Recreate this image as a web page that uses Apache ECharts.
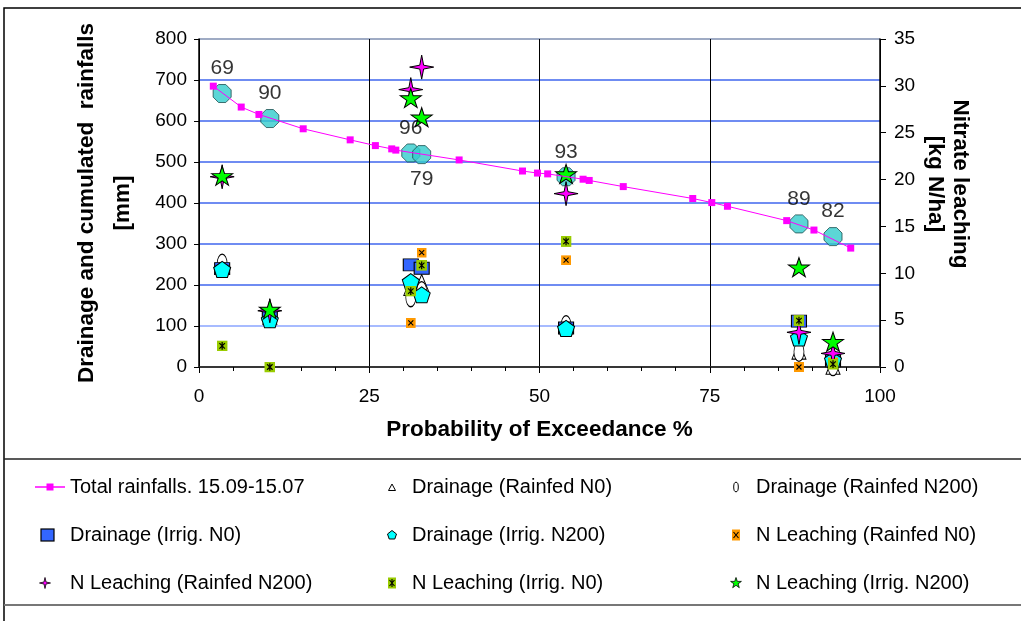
<!DOCTYPE html>
<html><head><meta charset="utf-8">
<script src="https://cdn.jsdelivr.net/npm/echarts@6/dist/echarts.min.js"></script>
<style>html,body{margin:0;padding:0;background:#fff}#c{width:1021px;height:621px}</style>
</head><body><div id="c"></div>
<script>
// ---- data ----
const rainProb  = [2.1, 6.2, 8.8, 15.3, 22.2, 25.9, 28.3, 28.9, 38.2, 47.5, 49.7, 51.2, 56.4, 57.3, 62.3, 72.5, 75.3, 77.6, 86.3, 90.3, 95.7];
const rainTotal = [685, 634, 616, 581, 554, 540, 532, 529, 505, 478, 473, 471, 458, 455, 440, 411, 401, 392, 357, 334, 290];
const yearLabels = ['69', '90', '96', '79', '93', '89', '82'];
const yearProb   = [3.4, 10.4, 31.1, 32.7, 53.9, 88.1, 93.1];
const yearRain   = [667, 606, 522, 518, 464, 349, 318];
const drainRainfedN0   = [248, 125, 195, 205, 103, 40, 3];
const drainRainfedN200 = [252, 120, 170, 185, 102, 37, 2];
const drainIrrigN0     = [240, 128, 249, 241, 95, 112, 15];
const drainIrrigN200   = [238, 115, 208, 176, 94, 71, 17];
const leachRainfedN0   = [2.2, 0, 4.7, 12.2, 11.4, 0, 0.5];
const leachRainfedN200 = [20.3, 6.0, 29.6, 32.0, 18.5, 3.7, 1.45];
const leachIrrigN0     = [2.25, 0, 8.1, 10.85, 13.4, 4.95, 0.3];
const leachIrrigN200   = [20.4, 6.15, 28.7, 26.65, 20.6, 10.65, 2.7];
const leftTicks = { min: 0, max: 800, step: 100 };
const rightTicks = { min: 0, max: 35, step: 5 };
const xTicks = { min: 0, max: 100, step: 25 };

// ---- styles ----
const FONT = 'Arial, "Liberation Sans", sans-serif';
const labelBelow = ['79'];
const svgURL = s => 'image://data:image/svg+xml;charset=utf-8,' + encodeURIComponent(s);
const svg = (w, h, body) => svgURL("<svg xmlns='http://www.w3.org/2000/svg' width='" + w + "' height='" + h + "' viewBox='0 0 " + w + " " + h + "'>" + body + "</svg>");
const orangeX = svg(20, 20, "<rect x='0' y='0' width='20' height='20' fill='#FF9900'/><path d='M5,5 L15,15 M15,5 L5,15' stroke='#000' stroke-width='2.2' fill='none'/>");
const greenAst = svg(20, 20, "<rect x='0' y='0' width='20' height='20' fill='#99CC00'/><path d='M5,5 L15,15 M15,5 L5,15 M10,3 L10,17' stroke='#000' stroke-width='2.2' fill='none'/>");
const OCT = 'path://M30,0 L70,0 L100,30 L100,70 L70,100 L30,100 L0,70 L0,30 Z';
const PENT = 'path://M50,0 L100,38 L81,100 L19,100 L0,38 Z';
const STAR4 = 'path://M50,0 L58,42 L100,50 L58,58 L50,100 L42,58 L0,50 L42,42 Z';
const STAR5 = 'path://M50,0 L61,35 L98,35 L68,57 L79,91 L50,70 L21,91 L32,57 L2,35 L39,35 Z';

// legend icons (30 x 14 boxes)
const LI = {
  rain: svg(30, 14, "<line x1='0' y1='7' x2='30' y2='7' stroke='#FF00FF' stroke-width='1.5'/><rect x='11.5' y='3.5' width='7' height='7' fill='#FF00FF'/>"),
  tri: svg(30, 14, "<polygon points='11.5,10.5 18.5,10.5 15,4' fill='#fff' stroke='#000' stroke-width='1'/>"),
  ell: svg(30, 14, "<ellipse cx='15' cy='7' rx='2.3' ry='4.8' fill='#fff' stroke='#000' stroke-width='1'/>"),
  sq: svg(30, 14, "<rect x='6' y='1' width='13' height='12' fill='#3366FF' stroke='#000' stroke-width='1.2'/>"),
  pent: svg(30, 14, "<polygon points='15,2.5 19.5,6 17.8,11 12.2,11 10.5,6' fill='#00FFFF' stroke='#000' stroke-width='1'/>"),
  orange: svg(30, 14, "<rect x='11' y='1.5' width='8' height='11' fill='#FF9900'/><path d='M12.5,4 L17.5,10 M17.5,4 L12.5,10' stroke='#000' stroke-width='1.1'/>"),
  star4: svg(30, 14, "<polygon points='10,1.5 11,6 15.5,7 11,8 10,12.5 9,8 4.5,7 9,6' fill='#FF00FF' stroke='#000' stroke-width='0.8'/>"),
  yg: svg(30, 14, "<rect x='11' y='1.5' width='8' height='11' fill='#99CC00'/><path d='M12.5,4 L17.5,10 M17.5,4 L12.5,10 M15,3 L15,11' stroke='#000' stroke-width='1.1'/>"),
  star5: svg(30, 14, "<polygon points='15,1.5 16.3,5.4 20.4,5.4 17.1,7.8 18.3,11.7 15,9.3 11.7,11.7 12.9,7.8 9.6,5.4 13.7,5.4' fill='#00FF00' stroke='#000' stroke-width='0.8'/>")
};

const pts = vals => yearProb.map((p, i) => [p, vals[i]]);
function sc(name, vals, yIdx, symbol, size, color, border) {
  return {
    name, type: 'scatter', yAxisIndex: yIdx, data: pts(vals),
    symbol, symbolSize: size,
    itemStyle: { color, borderColor: border || '#000', borderWidth: border === 'none' ? 0 : 1, opacity: 1 },
    emphasis: { disabled: true }
  };
}

const series = [
  {
    name: 'Total rainfalls. 15.09-15.07', type: 'line', yAxisIndex: 0,
    data: rainProb.map((p, i) => [p, rainTotal[i]]),
    symbol: 'rect', symbolSize: 7, showAllSymbol: true,
    lineStyle: { color: '#FF00FF', width: 1 },
    itemStyle: { color: '#FF00FF' }, emphasis: { disabled: true }
  },
  {
    name: 'years', type: 'scatter', yAxisIndex: 0,
    data: yearProb.map((p, i) => ({
      value: [p, yearRain[i]], name: yearLabels[i],
      label: { position: labelBelow.includes(yearLabels[i]) ? 'bottom' : 'top' }
    })),
    symbol: OCT, symbolSize: 18,
    itemStyle: { color: '#33CCCC', borderColor: '#1d4d4d', borderWidth: 1 },
    label: { show: true, formatter: '{b}', distance: 5, fontSize: 21, color: '#000', fontFamily: FONT },
    emphasis: { disabled: true }
  },
  sc('Drainage (Rainfed N0)', drainRainfedN0, 0, 'triangle', [14, 17], '#fff'),
  sc('Drainage (Rainfed N200)', drainRainfedN200, 0, 'circle', [10, 19], '#fff'),
  sc('Drainage (Irrig. N0)', drainIrrigN0, 0, 'rect', [15, 12], '#3366FF'),
  sc('Drainage (Irrig. N200)', drainIrrigN200, 0, PENT, [17, 16], '#00FFFF'),
  sc('N Leaching (Rainfed N0)', leachRainfedN0, 1, orangeX, 10, '#FF9900', 'none'),
  sc('N Leaching (Rainfed N200)', leachRainfedN200, 1, STAR4, 24, '#FF00FF'),
  sc('N Leaching (Irrig. N0)', leachIrrigN0, 1, greenAst, 11, '#99CC00', 'none'),
  sc('N Leaching (Irrig. N200)', leachIrrigN200, 1, STAR5, [21, 19], '#00FF00')
];

const legendBase = {
  orient: 'vertical', top: 471, itemWidth: 30, itemHeight: 14, itemGap: 26,
  textStyle: { fontSize: 20, fontFamily: FONT, color: '#000', lineHeight: 22 },
  selectedMode: false, inactiveColor: '#000'
};
const li = (name, icon) => ({ name, icon: LI[icon] });

const chart = echarts.init(document.getElementById('c'), null, { renderer: 'canvas' });
chart.setOption({
  animation: false,
  backgroundColor: '#fff',
  textStyle: { fontFamily: FONT },
  grid: { left: 199, right: 141, top: 39, bottom: 254, containLabel: false },
  xAxis: {
    type: 'value', min: xTicks.min, max: xTicks.max, interval: xTicks.step,
    name: 'Probability of Exceedance %', nameLocation: 'middle', nameGap: 51,
    nameTextStyle: { fontSize: 22.5, fontWeight: 'bold', color: '#000', fontFamily: FONT },
    axisLine: { lineStyle: { color: '#333', width: 1.5 } },
    axisTick: { show: true, length: 6, lineStyle: { color: '#000' } },
    minorTick: { show: true, splitNumber: 5, length: 4, lineStyle: { color: '#000' } },
    axisLabel: { fontSize: 19, color: '#000', margin: 20, fontFamily: FONT },
    splitLine: { show: true, lineStyle: { color: '#000', width: 1 } }
  },
  yAxis: [
    {
      type: 'value', min: leftTicks.min, max: leftTicks.max, interval: leftTicks.step, position: 'left',
      name: 'Drainage and cumulated  rainfalls\n[mm]', nameLocation: 'middle', nameGap: 58,
      nameTextStyle: { fontSize: 22.5, fontWeight: 'bold', color: '#000', lineHeight: 36, fontFamily: FONT },
      axisLine: { show: true, lineStyle: { color: '#000', width: 1.5 } },
      axisTick: { show: true, length: 5, lineStyle: { color: '#000' } },
      axisLabel: { fontSize: 19, color: '#000', margin: 12, fontFamily: FONT },
      splitLine: { show: true, lineStyle: { color: ['#000', '#8aa4ff', '#3f66ee', '#3f66ee', '#3f66ee', '#3f66ee', '#3f66ee', '#3f66ee', '#7f8fb0'], width: 1.5 } }
    },
    {
      type: 'value', min: rightTicks.min, max: rightTicks.max, interval: rightTicks.step, position: 'right',
      axisLine: { show: true, lineStyle: { color: '#000', width: 1.5 } },
      axisTick: { show: true, length: 6, lineStyle: { color: '#000' } },
      axisLabel: { fontSize: 19, color: '#000', margin: 14, fontFamily: FONT },
      splitLine: { show: false }
    }
  ],
  legend: [
    Object.assign({}, legendBase, { left: 30, data: [li('Total rainfalls. 15.09-15.07', 'rain'), li('Drainage (Irrig. N0)', 'sq'), li('N Leaching (Rainfed N200)', 'star4')] }),
    Object.assign({}, legendBase, { left: 372, data: [li('Drainage (Rainfed N0)', 'tri'), li('Drainage (Irrig. N200)', 'pent'), li('N Leaching (Irrig. N0)', 'yg')] }),
    Object.assign({}, legendBase, { left: 716, data: [li('Drainage (Rainfed N200)', 'ell'), li('N Leaching (Rainfed N0)', 'orange'), li('N Leaching (Irrig. N200)', 'star5')] })
  ],
  graphic: [
    { type: 'rect', silent: true, z: -10, shape: { x: 4, y: 8, width: 1050, height: 700 }, style: { fill: 'none', stroke: '#000', lineWidth: 1.5 } },
    { type: 'line', silent: true, shape: { x1: 4, y1: 459, x2: 1021, y2: 459 }, style: { stroke: '#222', lineWidth: 1.5 } },
    { type: 'line', silent: true, shape: { x1: 4, y1: 605, x2: 1021, y2: 605 }, style: { stroke: '#777', lineWidth: 2 } },
    { type: 'text', silent: true, x: 948, y: 184, rotation: -Math.PI / 2,
      style: { text: 'Nitrate leaching\n[kg N/ha]', fontSize: 22.5, fontWeight: 'bold', fontFamily: FONT, align: 'center', verticalAlign: 'middle', lineHeight: 25, fill: '#000' } }
  ],
  series
});
</script>
</body></html>
